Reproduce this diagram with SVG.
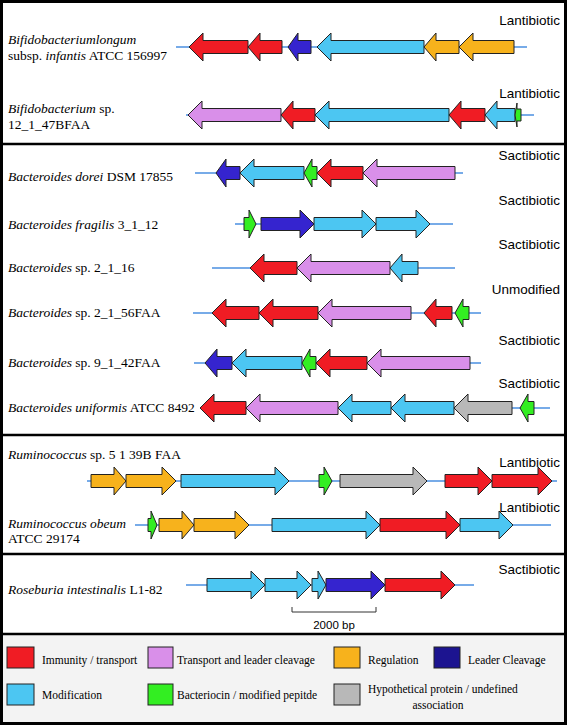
<svg xmlns="http://www.w3.org/2000/svg" width="567" height="725" viewBox="0 0 567 725">
<style>
.sp{font-family:"Liberation Serif","Times New Roman",serif;font-size:13.5px;fill:#000}
.it{font-style:italic}
.ty{font-family:"Liberation Sans",Arial,sans-serif;font-size:13.5px;fill:#000;text-anchor:end}
.lg{font-family:"Liberation Serif","Times New Roman",serif;font-size:11.5px;fill:#000}
.bb{stroke:#4a8fe0;stroke-width:1.3;fill:none}
.g path,.sq{stroke:#222;stroke-width:1}
.r{fill:#f01c24}.c{fill:#4cc6f2}.p{fill:#d98fe9}.o{fill:#f7b21c}.b{fill:#3524cf}.n{fill:#1c1490}.gr{fill:#33ee22}.y{fill:#b8b8b8}
.sep{stroke:#000;stroke-width:2.5}
</style>
<rect x="0" y="0" width="567" height="725" fill="#fff"/>
<rect x="1.5" y="635" width="564" height="88" fill="#f3f3f3"/>

<g id="connectors">
<line class="bb" x1="176" y1="47" x2="527" y2="47"/>
<line class="bb" x1="186" y1="115" x2="534" y2="115"/>
<line class="bb" x1="195" y1="173" x2="463" y2="173"/>
<line class="bb" x1="235" y1="224" x2="453" y2="224"/>
<line class="bb" x1="212" y1="268" x2="455" y2="268"/>
<line class="bb" x1="193" y1="313" x2="481" y2="313"/>
<line class="bb" x1="194" y1="363" x2="481" y2="363"/>
<line class="bb" x1="200" y1="408" x2="550" y2="408"/>
<line class="bb" x1="87" y1="481" x2="557" y2="481"/>
<line class="bb" x1="135" y1="525" x2="551" y2="525"/>
<line class="bb" x1="186" y1="585" x2="474" y2="585"/>
</g>

<g id="row-blongum" class="g">
<text class="sp" x="8" y="44"><tspan class="it">Bifidobacteriumlongum</tspan></text>
<text class="sp" x="8" y="60">subsp. <tspan class="it">infantis</tspan> ATCC 156997</text>
<text class="ty" x="560" y="25">Lantibiotic</text>
<path class="r" d="M189,47L203,33V40.5H248V53.5H203V61Z"/>
<path class="r" d="M248,47L260,33V40.5H282V53.5H260V61Z"/>
<path class="b" d="M288,47L298,33V40.5H311V53.5H298V61Z"/>
<path class="c" d="M317,47L331,33V40.5H424V53.5H331V61Z"/>
<path class="o" d="M424,47L436,33V40.5H459V53.5H436V61Z"/>
<path class="o" d="M459,47L473,33V40.5H514V53.5H473V61Z"/>
</g>

<g id="row-bsp" class="g">
<text class="sp" x="8" y="113"><tspan class="it">Bifidobacterium</tspan> sp.</text>
<text class="sp" x="8" y="129">12_1_47BFAA</text>
<text class="ty" x="560" y="98">Lantibiotic</text>
<path class="p" d="M188,115L202,101V108.5H281V121.5H202V129Z"/>
<path class="r" d="M281,115L293,101V108.5H315V121.5H293V129Z"/>
<path class="c" d="M315,115L329,101V108.5H449V121.5H329V129Z"/>
<path class="r" d="M449,115L461,101V108.5H485V121.5H461V129Z"/>
<path class="c" d="M485,115L497,101V108.5H515V121.5H497V129Z"/>
<path class="gr" d="M515,115L517,103V109H521V121H517V127Z"/>
</g>

<g id="row-bdorei" class="g">
<text class="sp" x="8" y="181"><tspan class="it">Bacteroides dorei</tspan> DSM 17855</text>
<text class="ty" x="560" y="160">Sactibiotic</text>
<path class="b" d="M216,173L226,159V166.5H240V179.5H226V187Z"/>
<path class="c" d="M240,173L254,159V166.5H304V179.5H254V187Z"/>
<path class="gr" d="M304,173L312,159V166.5H317V179.5H312V187Z"/>
<path class="r" d="M317,173L331,159V166.5H363V179.5H331V187Z"/>
<path class="p" d="M363,173L377,159V166.5H455V179.5H377V187Z"/>
</g>

<g id="row-bfragilis" class="g">
<text class="sp" x="8" y="229"><tspan class="it">Bacteroides fragilis</tspan> 3_1_12</text>
<text class="ty" x="560" y="205">Sactibiotic</text>
<path class="gr" d="M256,224L249,210V217.5H244V230.5H249V238Z"/>
<path class="b" d="M314,224L300,210V217.5H261V230.5H300V238Z"/>
<path class="c" d="M376,224L362,210V217.5H314V230.5H362V238Z"/>
<path class="c" d="M430,224L416,210V217.5H376V230.5H416V238Z"/>
</g>

<g id="row-b2116" class="g">
<text class="sp" x="8" y="272"><tspan class="it">Bacteroides</tspan> sp. 2_1_16</text>
<text class="ty" x="560" y="249">Sactibiotic</text>
<path class="r" d="M250,268L264,254V261.5H297V274.5H264V282Z"/>
<path class="p" d="M297,268L311,254V261.5H390V274.5H311V282Z"/>
<path class="c" d="M390,268L402,254V261.5H418V274.5H402V282Z"/>
</g>

<g id="row-b2156" class="g">
<text class="sp" x="8" y="317"><tspan class="it">Bacteroides</tspan> sp. 2_1_56FAA</text>
<text class="ty" x="560" y="294">Unmodified</text>
<path class="r" d="M212,313L226,299V306.5H259V319.5H226V327Z"/>
<path class="r" d="M259,313L273,299V306.5H318V319.5H273V327Z"/>
<path class="p" d="M318,313L332,299V306.5H411V319.5H332V327Z"/>
<path class="r" d="M424,313L436,299V306.5H452V319.5H436V327Z"/>
<path class="gr" d="M455,313L463,299V306.5H469V319.5H463V327Z"/>
</g>

<g id="row-b9142" class="g">
<text class="sp" x="8" y="367"><tspan class="it">Bacteroides</tspan> sp. 9_1_42FAA</text>
<text class="ty" x="560" y="345">Sactibiotic</text>
<path class="b" d="M205,363L217,349V356.5H232V369.5H217V377Z"/>
<path class="c" d="M232,363L246,349V356.5H302V369.5H246V377Z"/>
<path class="gr" d="M302,363L310,349V356.5H316V369.5H310V377Z"/>
<path class="r" d="M316,363L330,349V356.5H367V369.5H330V377Z"/>
<path class="p" d="M367,363L381,349V356.5H470V369.5H381V377Z"/>
</g>

<g id="row-buniformis" class="g">
<text class="sp" x="8" y="412"><tspan class="it">Bacteroides uniformis</tspan> ATCC 8492</text>
<text class="ty" x="560" y="388">Sactibiotic</text>
<path class="r" d="M200,408L214,394V401.5H246V414.5H214V422Z"/>
<path class="p" d="M246,408L260,394V401.5H338V414.5H260V422Z"/>
<path class="c" d="M338,408L352,394V401.5H391V414.5H352V422Z"/>
<path class="c" d="M391,408L405,394V401.5H454V414.5H405V422Z"/>
<path class="y" d="M454,408L468,394V401.5H512V414.5H468V422Z"/>
<path class="gr" d="M520,408L528,394V401.5H534V414.5H528V422Z"/>
</g>

<g id="row-rsp" class="g">
<text class="sp" x="8" y="459"><tspan class="it">Ruminococcus</tspan>  sp. 5 1 39B FAA</text>
<text class="ty" x="560" y="467">Lantibiotic</text>
<path class="o" d="M126,481L114,467V474.5H91V487.5H114V495Z"/>
<path class="o" d="M176,481L162,467V474.5H126V487.5H162V495Z"/>
<path class="c" d="M289,481L275,467V474.5H181V487.5H275V495Z"/>
<path class="gr" d="M332,481L324,467V474.5H319V487.5H324V495Z"/>
<path class="y" d="M427,481L413,467V474.5H340V487.5H413V495Z"/>
<path class="r" d="M492,481L478,467V474.5H445V487.5H478V495Z"/>
<path class="r" d="M552,481L538,467V474.5H492V487.5H538V495Z"/>
</g>

<g id="row-robeum" class="g">
<text class="sp" x="8" y="528"><tspan class="it">Ruminococcus obeum</tspan></text>
<text class="sp" x="8" y="543">ATCC 29174</text>
<text class="ty" x="560" y="512">Lantibiotic</text>
<path class="gr" d="M157,525L151,511V518.5H148V531.5H151V539Z"/>
<path class="o" d="M194,525L182,511V518.5H159V531.5H182V539Z"/>
<path class="o" d="M249,525L235,511V518.5H194V531.5H235V539Z"/>
<path class="c" d="M380,525L366,511V518.5H272V531.5H366V539Z"/>
<path class="r" d="M460,525L446,511V518.5H380V531.5H446V539Z"/>
<path class="c" d="M513,525L499,511V518.5H460V531.5H499V539Z"/>
</g>

<g id="row-roseburia" class="g">
<text class="sp" x="8" y="594"><tspan class="it">Roseburia intestinalis</tspan> L1-82</text>
<text class="ty" x="560" y="574">Sactibiotic</text>
<path class="c" d="M265,585L251,571V578.5H207V591.5H251V599Z"/>
<path class="c" d="M311,585L297,571V578.5H265V591.5H297V599Z"/>
<path class="c" d="M326,585L318,571V578.5H312V591.5H318V599Z"/>
<path class="b" d="M385,585L371,571V578.5H326V591.5H371V599Z"/>
<path class="r" d="M455,585L441,571V578.5H385V591.5H441V599Z"/>
</g>

<g id="scalebar">
<path d="M292,607V612H376V607" fill="none" stroke="#333" stroke-width="1"/>
<text x="334" y="629" font-family="Liberation Sans, Arial, sans-serif" font-size="11.5" text-anchor="middle">2000 bp</text>
</g>

<g id="legend">
<rect class="sq r" x="7" y="647" width="27" height="21"/>
<text class="lg" x="42" y="664">Immunity / transport</text>
<rect class="sq p" x="148" y="647" width="25" height="21"/>
<text class="lg" x="177" y="664">Transport and leader cleavage</text>
<rect class="sq o" x="334" y="647" width="26" height="21"/>
<text class="lg" x="368" y="664">Regulation</text>
<rect class="sq n" x="434" y="647" width="26" height="21"/>
<text class="lg" x="468" y="664">Leader Cleavage</text>
<rect class="sq c" x="7" y="684" width="27" height="21"/>
<text class="lg" x="42" y="699">Modification</text>
<rect class="sq gr" x="148" y="684" width="25" height="21"/>
<text class="lg" x="177" y="699">Bacteriocin / modified pepitde</text>
<rect class="sq y" x="334" y="684" width="26" height="21"/>
<text class="lg" x="368" y="693">Hypothetical protein / undefined</text>
<text class="lg" x="438" y="709" text-anchor="middle">association</text>
</g>

<g id="frame">
<line class="sep" x1="0" y1="144" x2="567" y2="144"/>
<line class="sep" x1="0" y1="435" x2="567" y2="435"/>
<line class="sep" x1="0" y1="554" x2="567" y2="554"/>
<line class="sep" x1="0" y1="634" x2="567" y2="634"/>
<rect x="1.5" y="1.5" width="564" height="722" fill="none" stroke="#000" stroke-width="3"/>
</g>
</svg>
